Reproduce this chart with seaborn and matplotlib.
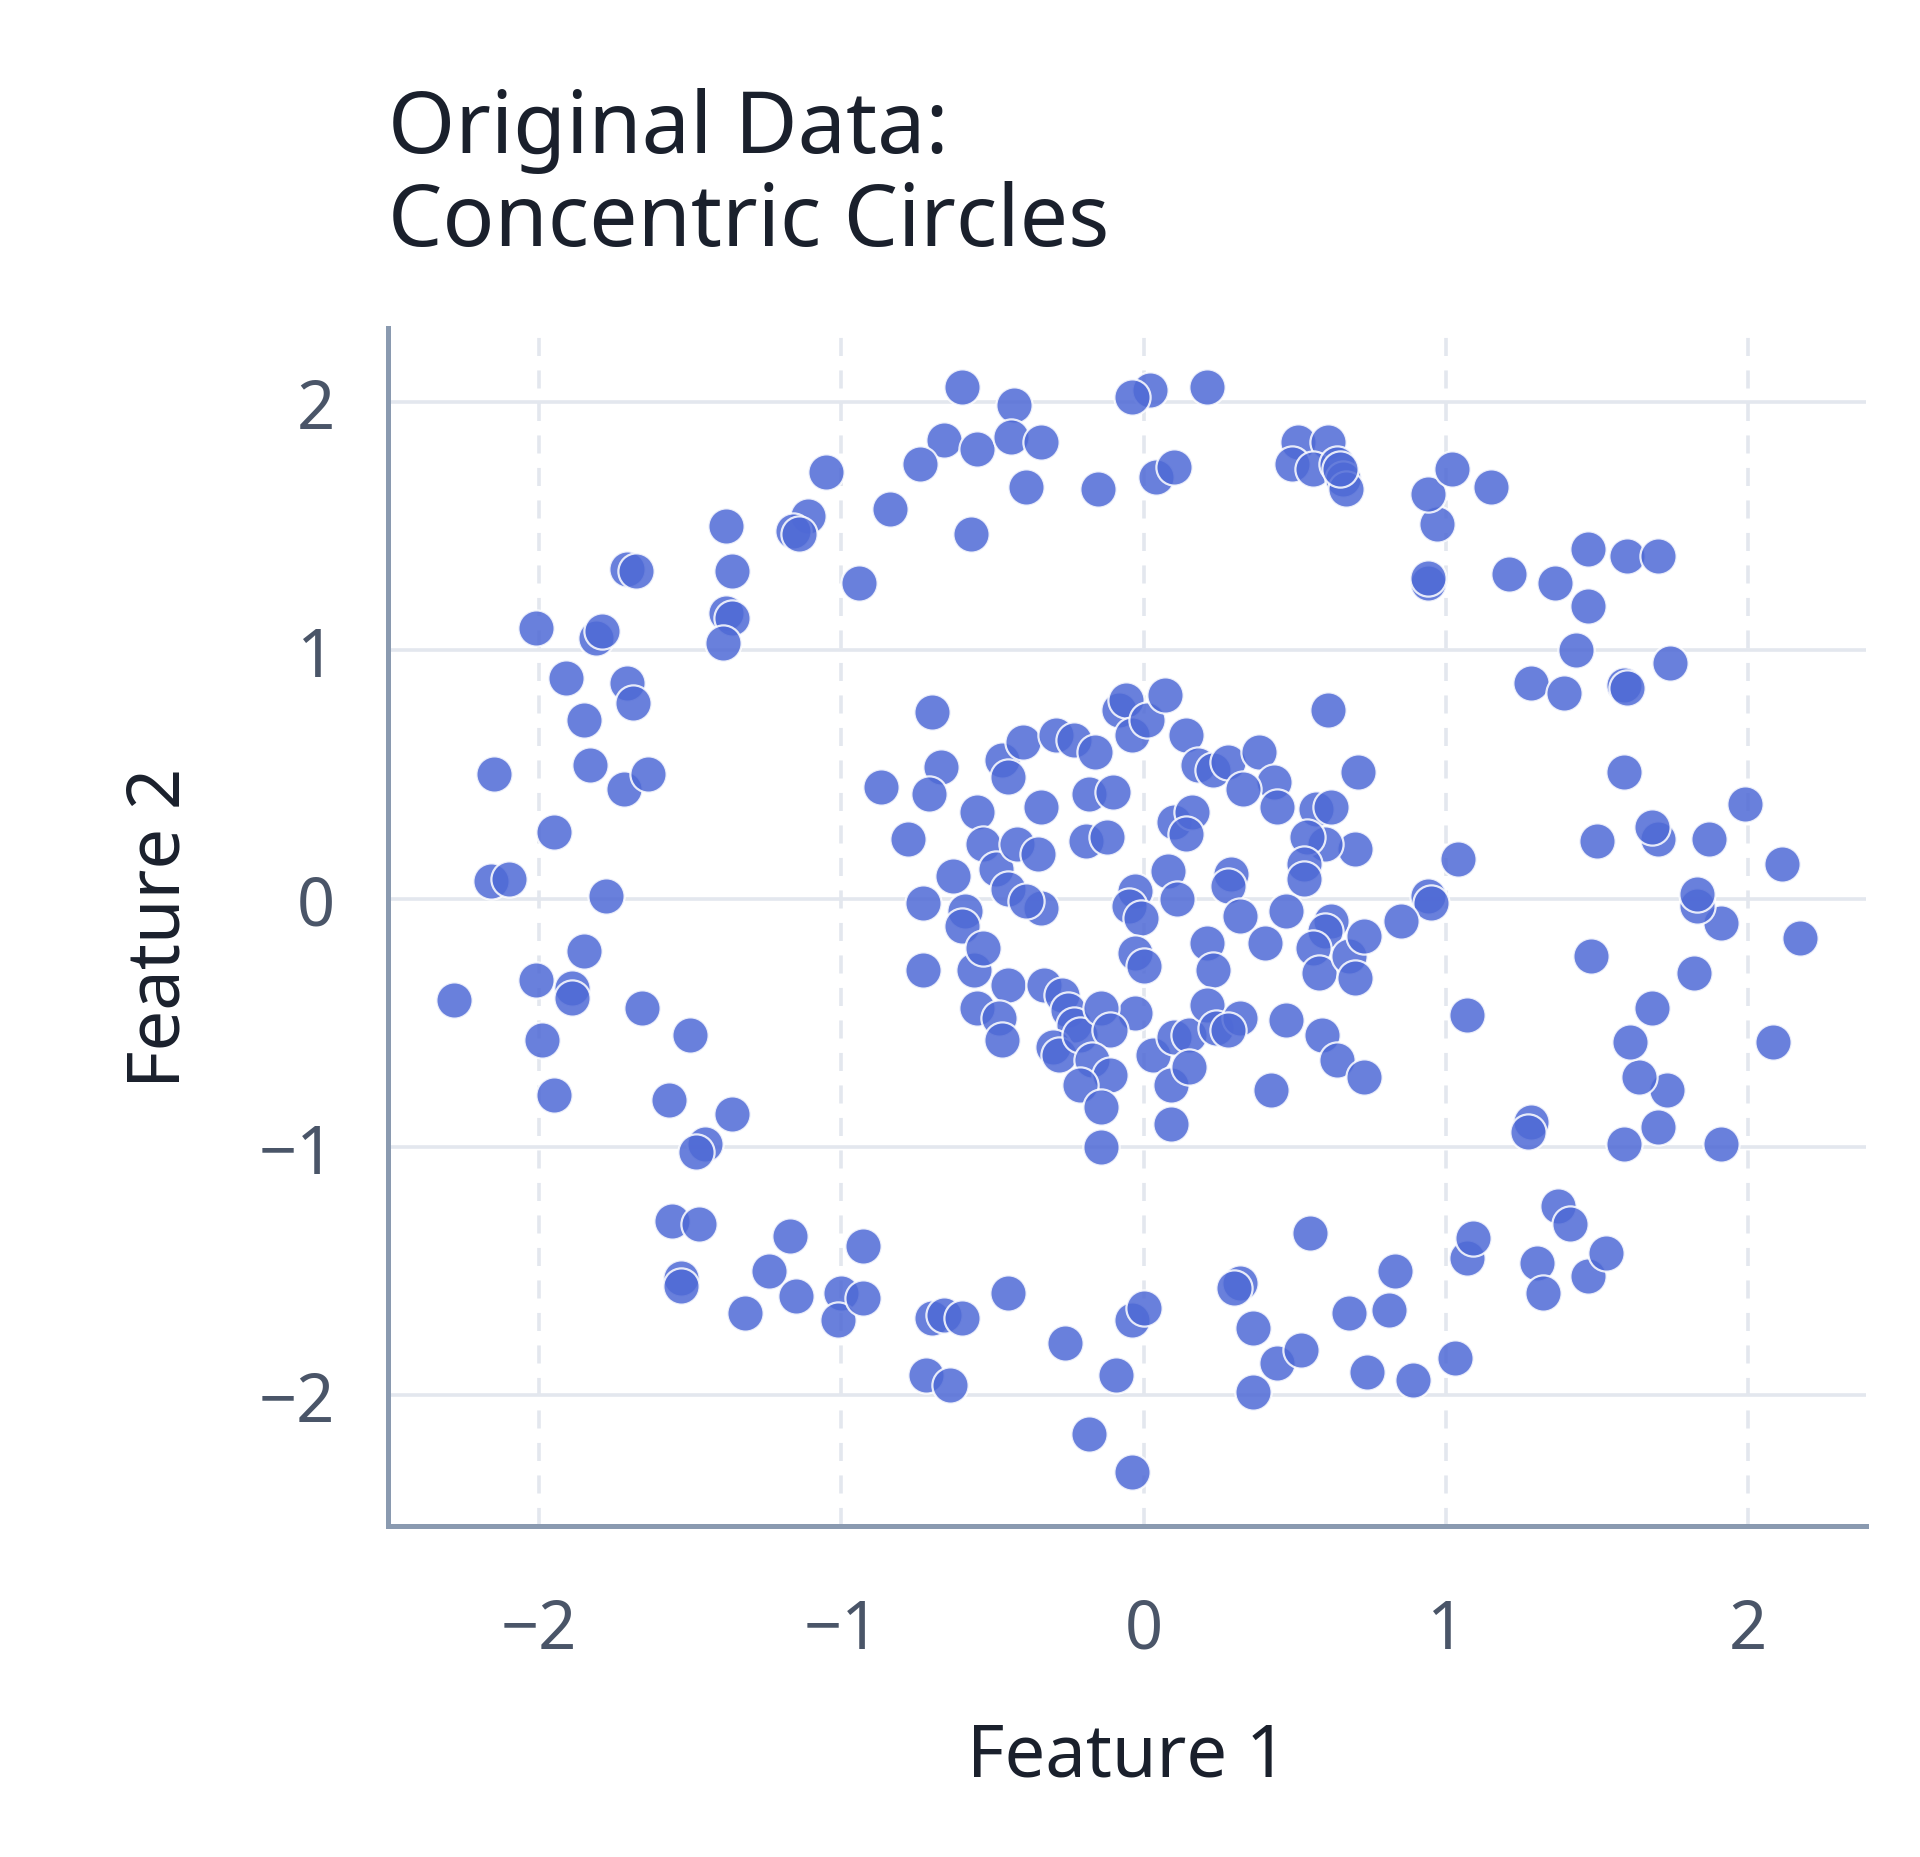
import matplotlib
matplotlib.use("Agg")
import matplotlib.pyplot as plt
import seaborn as sns
import pandas as pd

# outer ring
outer_x = [-0.60, -0.43, -0.66, -0.55, -0.44, -0.34, -0.39, -0.74, -1.05, -0.84, -0.57, -1.11, -1.16, -1.14,
           -0.94, -1.38, -1.36, -1.38, -1.36, -1.39, -1.71, -1.68, -2.01, -1.81, -1.79, -1.91, -1.71, -1.69,
           -1.85, -1.83, -1.72, -1.64, -2.15, -1.95, -2.16, -2.10, -1.78, -2.28, -2.01, -1.85, -1.89, -1.89,
           -1.99, -1.95, -1.66, -1.50, -1.57, -1.36, -1.45, -1.48, -1.56, -1.47, -1.53, -1.53, -1.32, -1.24,
           -1.17, -1.15, -1.00, -1.01, -0.93, -0.93, -0.70, -0.66, -0.60, -0.72, -0.64, -0.45, -0.26, -0.18,
           -0.04, -0.09, -0.04, 0.00, 0.36, 0.32, 0.30, 0.36, 0.44, 0.52, 0.55, 0.68, 0.74, 0.81, 0.83, 0.89,
           1.03, 1.07, 1.09, 1.28, 1.27, 1.07, 1.30, 1.32, 1.37, 1.41, 1.47, 1.53, 1.59, 1.70, 1.91, 1.73,
           1.64, 1.61, 1.68, 1.82, 1.48, 2.08, 2.17, 1.91, 1.83, 1.83, 2.11, 1.99, 1.87, 1.70, 1.68, 1.50,
           1.59, 1.04, 0.94, 0.95, 0.85, 1.28, 1.39, 1.59, 1.60, 1.74, 1.43, 1.47, 1.36, 1.21, 1.47, 1.60,
           1.70, 0.94, 0.94, 0.97, 0.94, 1.02, 1.15, 0.51, 0.61, 0.49, 0.56, 0.64, 0.66, 0.67, 0.65, 0.21,
           0.02, -0.04, 0.04, 0.10, -0.15]
outer_y = [2.06, 1.99, 1.85, 1.81, 1.86, 1.84, 1.66, 1.75, 1.72, 1.57, 1.47, 1.54, 1.48, 1.47,
           1.27, 1.50, 1.32, 1.15, 1.13, 1.03, 1.33, 1.32, 1.09, 1.05, 1.08, 0.89, 0.87, 0.79,
           0.72, 0.54, 0.44, 0.50, 0.50, 0.27, 0.07, 0.08, 0.01, -0.41, -0.33, -0.21, -0.36, -0.40,
           -0.57, -0.79, -0.44, -0.55, -0.81, -0.87, -0.99, -1.02, -1.30, -1.31, -1.53, -1.56, -1.67, -1.50,
           -1.36, -1.60, -1.59, -1.70, -1.61, -1.40, -1.69, -1.68, -1.69, -1.92, -1.96, -1.59, -1.79, -2.16,
           -2.31, -1.92, -1.70, -1.65, -1.73, -1.55, -1.57, -1.99, -1.87, -1.82, -1.35, -1.67, -1.91, -1.66, -1.50, -1.94,
           -1.85, -1.45, -1.37, -0.90, -0.94, -0.47, -1.47, -1.59, -1.24, -1.31, -1.52, -1.43, -0.99, -0.92, -0.99, -0.77,
           -0.72, -0.58, -0.44, -0.30, -0.23, -0.58, -0.16, -0.10, -0.03, 0.02, 0.14, 0.38, 0.24, 0.24, 0.29, 0.23,
           0.51, 0.16, 0.01, -0.02, -0.09, 0.87, 0.83, 0.86, 0.85, 0.95, 1.00, 1.18, 1.27, 1.31, 1.41, 1.38,
           1.38, 1.27, 1.29, 1.51, 1.63, 1.73, 1.66, 1.84, 1.84, 1.75, 1.73, 1.75, 1.69, 1.65, 1.73, 2.06,
           2.05, 2.02, 1.70, 1.74, 1.65]

# inner cluster
inner_x = [-0.70, -0.67, -0.87, -0.71, -0.78, -0.73, -0.73, -0.55, -0.53, -0.63, -0.59, -0.60, -0.56, -0.53,
           -0.49, -0.45, -0.42, -0.35, -0.34, -0.39, -0.45, -0.55, -0.48, -0.47, -0.47, -0.45, -0.40, -0.34,
           -0.29, -0.23, -0.16, -0.18, -0.19, -0.12, -0.10, -0.08, -0.06, -0.04, 0.01, 0.07, 0.14, 0.18,
           0.23, 0.28, 0.38, 0.43, 0.33, 0.44, 0.57, 0.62, 0.71, 0.70, 0.60, 0.54, 0.53, 0.53, 0.47, 0.62,
           0.60, 0.56, 0.58, 0.68, 0.70, 0.73, 0.47, 0.59, 0.64, 0.73, 0.42, 0.29, 0.28, 0.32, 0.21, 0.23,
           0.40, 0.10, 0.16, 0.14, 0.08, 0.11, -0.03, -0.05, -0.01, -0.03, 0.00, -0.03, 0.03, 0.10, 0.15,
           0.09, 0.15, 0.09, 0.21, 0.24, 0.32, 0.28, -0.33, -0.27, -0.25, -0.23, -0.30, -0.28, -0.21, -0.14,
           -0.11, -0.17, -0.11, -0.21, -0.14, -0.14, 0.61]
inner_y = [0.75, 0.53, 0.45, 0.42, 0.24, -0.02, -0.29, 0.35, 0.22, 0.09, -0.05, -0.11, -0.29, -0.20,
           0.12, 0.04, 0.22, 0.18, -0.04, -0.01, -0.35, -0.44, -0.48, -0.57, 0.56, 0.49, 0.63, 0.37,
           0.66, 0.64, 0.59, 0.42, 0.23, 0.25, 0.43, 0.76, 0.80, 0.66, 0.72, 0.82, 0.66, 0.54,
           0.52, 0.55, 0.59, 0.47, 0.44, 0.37, 0.36, 0.37, 0.51, 0.20, 0.22, 0.25, 0.14, 0.08, -0.05, -0.09,
           -0.13, -0.20, -0.30, -0.23, -0.32, -0.15, -0.49, -0.55, -0.65, -0.72, -0.77, 0.10, 0.05, -0.07, -0.18, -0.29,
           -0.18, 0.31, 0.35, 0.26, 0.11, 0.00, 0.03, -0.03, -0.08, -0.22, -0.27, -0.46, -0.63, -0.56, -0.55,
           -0.75, -0.68, -0.91, -0.43, -0.52, -0.48, -0.53, -0.35, -0.39, -0.45, -0.51, -0.60, -0.63, -0.55, -0.44,
           -0.53, -0.65, -0.71, -0.75, -0.84, -1.00, 0.76]

df = pd.DataFrame({"x": outer_x + inner_x, "y": outer_y + inner_y})

sns.set_style("white")
plt.rcParams["font.family"] = ["Noto Sans", "DejaVu Sans"]

fig = plt.figure(figsize=(9.6, 9.29), dpi=200)
ax = fig.add_axes([0.202, 0.178, 0.77, 0.645])

sns.scatterplot(data=df, x="x", y="y", ax=ax, s=170, color="#4f6ad6", alpha=0.85,
                edgecolor="white", linewidth=0.8, zorder=3)

ax.set_xlim(-2.5, 2.39)
ax.set_ylim(-2.53, 2.30)
ax.set_xticks([-2, -1, 0, 1, 2])
ax.set_yticks([-2, -1, 0, 1, 2])
ax.set_xticklabels(["\u22122", "\u22121", "0", "1", "2"])
ax.set_yticklabels(["\u22122", "\u22121", "0", "1", "2"])

ax.yaxis.grid(True, color="#e3e7ee", linewidth=1.3, zorder=0)
ax.xaxis.grid(True, color="#e3e7ee", linewidth=1.3, linestyle=(0, (5, 4)), zorder=0)
ax.set_axisbelow(True)

sns.despine(ax=ax)
for side in ["left", "bottom"]:
    ax.spines[side].set_color("#8a9ab0")
    ax.spines[side].set_linewidth(1.8)
ax.tick_params(axis="both", length=9, width=1.8, color="#4a5568", labelsize=24,
               labelcolor="#4a5568", pad=10, direction="out")
ax.tick_params(axis="x", pad=16)

ax.set_xlabel("Feature 1", fontsize=26, color="#1a202c", labelpad=20)
ax.set_ylabel("Feature 2", fontsize=26, color="#1a202c", labelpad=22)
ax.set_title("Original Data:\nConcentric Circles", loc="left", fontsize=31,
             color="#1a202c", pad=30, linespacing=1.1)

fig.savefig("out.png", dpi=200)
